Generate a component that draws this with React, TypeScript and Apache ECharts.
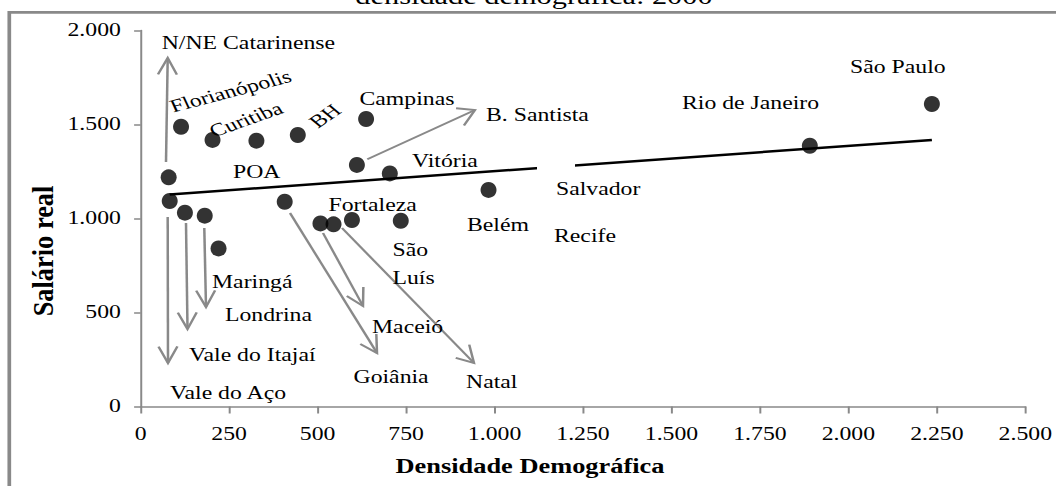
import React, { useEffect, useRef } from "react";
import * as echarts from "echarts";

// ---- data ----
const cities = [
  "N/NE Catarinense", "Vale do Aço", "Florianópolis", "Vale do Itajaí", "Londrina",
  "Curitiba", "Maringá", "POA", "Goiânia", "BH", "Maceió", "Natal", "Fortaleza",
  "B. Santista", "Campinas", "Vitória", "São Luís", "Belém", "Rio de Janeiro", "São Paulo",
];
const densidade = [79, 82, 114, 125, 181, 203, 220, 327, 407, 444, 508, 545, 597, 611, 637, 704, 735, 983, 1891, 2236];
const salario = [1219, 1093, 1488, 1031, 1015, 1418, 841, 1414, 1089, 1444, 974, 969, 992, 1285, 1529, 1240, 988, 1152, 1387, 1609];
const trendX = [82, 2236];
const trendY = [1128, 1418];
const xTicks = { min: 0, max: 2500, interval: 250 };
const yTicks = { min: 0, max: 2000, interval: 500 };

// ---- layout (reference-pixel space, stretched horizontally by S) ----
const S = 1.32;
const W = 800;
const H = 486;
const FONT = "'Liberation Serif', 'Times New Roman', Times, serif";
const GRAY = "#898989";

type Lbl = { t: string; x: number; y: number; rot?: number; align?: string };
const labelLayout: Lbl[] = [
  { t: "N/NE Catarinense", x: 161.7, y: 43 },
  { t: "Florianópolis", x: 230.5, y: 91.3, rot: 19, align: "center" },
  { t: "Curitiba", x: 246, y: 119.6, rot: 25, align: "center" },
  { t: "BH", x: 325, y: 116, rot: 42, align: "center" },
  { t: "Campinas", x: 359.5, y: 99 },
  { t: "B. Santista", x: 486, y: 115 },
  { t: "São Paulo", x: 850, y: 67 },
  { t: "Rio de Janeiro", x: 682, y: 103.5 },
  { t: "POA", x: 233, y: 172 },
  { t: "Vitória", x: 412, y: 161.5 },
  { t: "Fortaleza", x: 328.5, y: 205 },
  { t: "Belém", x: 467, y: 225.5 },
  { t: "Salvador", x: 556, y: 189 },
  { t: "Recife", x: 554, y: 236 },
  { t: "São", x: 392.5, y: 250.5 },
  { t: "Luís", x: 392.5, y: 278 },
  { t: "Maringá", x: 212, y: 282 },
  { t: "Londrina", x: 225, y: 315 },
  { t: "Maceió", x: 372, y: 327.5 },
  { t: "Vale do Itajaí", x: 189, y: 355 },
  { t: "Goiânia", x: 353.5, y: 377 },
  { t: "Natal", x: 466, y: 382.5 },
  { t: "Vale do Aço", x: 170, y: 393 },
];

const arrowLayout: number[][] = [
  [166, 162, 167.7, 58],
  [367.3, 159.3, 475, 110],
  [167.7, 217, 168, 363],
  [186, 223, 187.5, 329],
  [204.3, 228, 206, 307],
  [290, 213, 377, 353],
  [323, 233, 363, 306],
  [342, 228, 474, 363],
];

function fmt(v: number): string {
  return String(Math.round(v)).replace(/\B(?=(\d{3})+(?!\d))/g, ".");
}

function arrow(a: number[]) {
  const [x1, y1, x2, y2] = a;
  const ang = Math.atan2(y2 - y1, x2 - x1);
  const L = 19;
  const da = 0.52;
  const b1 = [x2 - L * Math.cos(ang - da), y2 - L * Math.sin(ang - da)];
  const b2 = [x2 - L * Math.cos(ang + da), y2 - L * Math.sin(ang + da)];
  const style = { stroke: GRAY, lineWidth: 1.9, fill: null as any, lineCap: "butt" };
  return [
    { type: "line", z: 15, shape: { x1: x1 / S, y1, x2: x2 / S, y2 }, style },
    {
      type: "polyline",
      z: 15,
      shape: { points: [[b1[0] / S, b1[1]], [x2 / S, y2], [b2[0] / S, b2[1]]] },
      style,
    },
  ];
}

export default function App() {
  const ref = useRef<HTMLDivElement>(null);
  useEffect(() => {
    if (!ref.current) return;
    const chart = echarts.init(ref.current, undefined, { renderer: "svg" });

    const texts = labelLayout.map((l) => ({
      type: "text",
      z: 20,
      x: l.x / S,
      y: l.y,
      rotation: l.rot ? (l.rot * Math.PI) / 180 : 0,
      style: {
        text: l.t,
        fill: "#000",
        fontSize: 18,
        fontFamily: FONT,
        align: l.align || "left",
        verticalAlign: "middle",
      },
    }));

    const graphic: any[] = [
      {
        type: "rect",
        z: 1,
        shape: { x: 9.3 / S, y: 12.3, width: W + 50, height: H + 50 },
        style: { fill: null, stroke: GRAY, lineWidth: 2.8 },
      },
      {
        type: "rect",
        z: 10,
        shape: { x: 537 / S, y: 156, width: 38 / S, height: 20 },
        style: { fill: "#fff" },
      },
      {
        type: "text",
        z: 20,
        x: 534 / S,
        y: -3.3,
        style: {
          text: "densidade demográfica: 2000",
          fill: "#000",
          fontSize: 23,
          fontFamily: FONT,
          align: "center",
          verticalAlign: "middle",
        },
      },
      {
        type: "text",
        z: 20,
        x: 530 / S,
        y: 466,
        style: {
          text: "Densidade Demográfica",
          fill: "#000",
          fontSize: 20,
          fontWeight: "bold",
          fontFamily: FONT,
          align: "center",
          verticalAlign: "middle",
        },
      },
      {
        type: "text",
        z: 20,
        x: 43 / S,
        y: 251,
        rotation: Math.PI / 2,
        scaleX: 1.2,
        style: {
          text: "Salário real",
          fill: "#000",
          fontSize: 22,
          fontWeight: "bold",
          fontFamily: FONT,
          align: "center",
          verticalAlign: "middle",
        },
      },
      ...texts,
    ];
    arrowLayout.forEach((a) => graphic.push(...arrow(a)));

    const axisLineStyle = { color: GRAY, width: 1.5 };
    chart.setOption({
      animation: false,
      backgroundColor: "#fff",
      textStyle: { fontFamily: FONT },
      grid: { left: 140.7 / S, right: W - 1028 / S, top: 30.5, bottom: H - 406.5 },
      xAxis: {
        type: "value",
        min: xTicks.min,
        max: xTicks.max,
        interval: xTicks.interval,
        axisLine: { show: true, onZero: false, lineStyle: axisLineStyle },
        axisTick: { show: true, length: 7, lineStyle: axisLineStyle },
        splitLine: { show: false },
        axisLabel: { fontSize: 18, color: "#000", fontFamily: FONT, margin: 19, formatter: fmt },
      },
      yAxis: {
        type: "value",
        min: yTicks.min,
        max: yTicks.max,
        interval: yTicks.interval,
        axisLine: { show: true, onZero: false, lineStyle: axisLineStyle },
        axisTick: { show: true, length: 5, lineStyle: axisLineStyle },
        splitLine: { show: false },
        axisLabel: { fontSize: 18, color: "#000", fontFamily: FONT, margin: 15, formatter: fmt },
      },
      series: [
        {
          type: "line",
          data: trendX.map((x, i) => [x, trendY[i]]),
          symbol: "none",
          lineStyle: { color: "#000", width: 2.5 },
          z: 2,
          silent: true,
        },
        {
          type: "scatter",
          name: "Salário real",
          data: densidade.map((x, i) => ({ name: cities[i], value: [x, salario[i]] })),
          symbol: "circle",
          symbolSize: [16 / S, 16],
          itemStyle: { color: "#000" },
          z: 3,
        },
      ],
      graphic,
    });
    return () => chart.dispose();
  }, []);

  return (
    <div
      style={{
        position: "fixed",
        left: 0,
        top: 0,
        width: 1056,
        height: H,
        overflow: "hidden",
        background: "#fff",
      }}
    >
      <div
        ref={ref}
        style={{
          width: W,
          height: H,
          transform: `scaleX(${S})`,
          transformOrigin: "0 0",
        }}
      />
    </div>
  );
}
